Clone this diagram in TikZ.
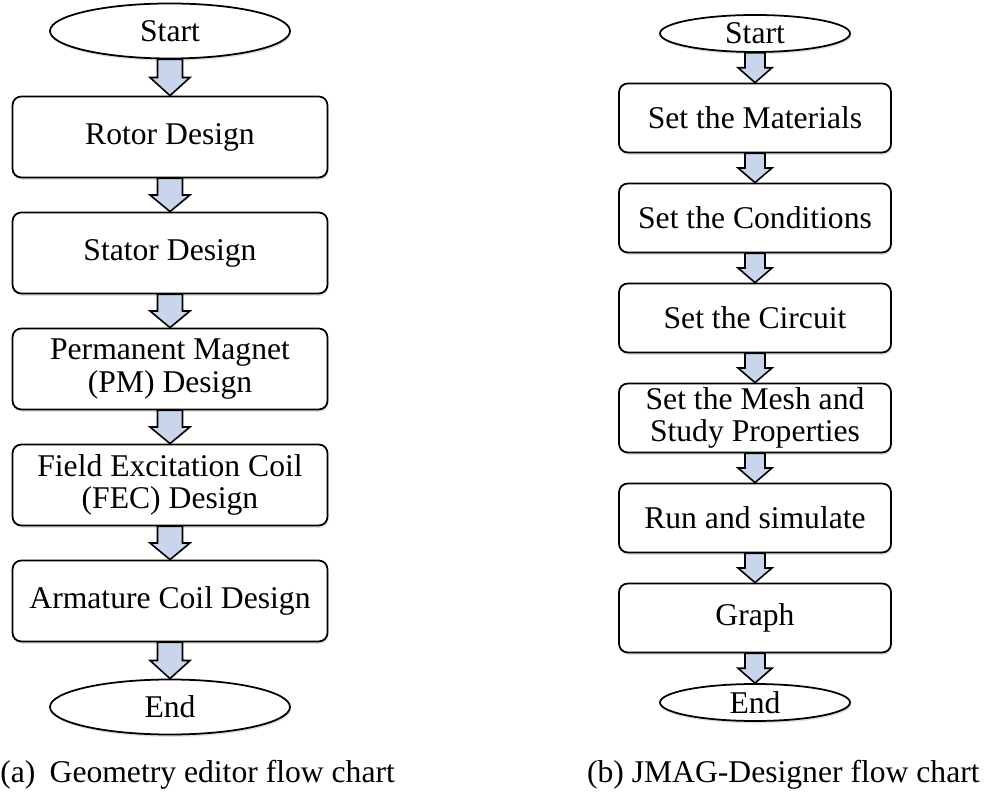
\documentclass[tikz,border=0pt]{standalone}
\usepackage{fontspec}
\setmainfont{Liberation Serif}
\usetikzlibrary{positioning,calc,shapes.geometric,shadows}

\definecolor{arrowblue}{RGB}{200,213,235}

% fat block arrow from one node to the next
\newcommand{\fatarrow}[4]{%
  \draw[fatarrow] let \p1=(#1.south), \p2=(#2.north) in
    ({\x1-#3},\y1) -- ({\x1-#3},{0.5*(\y1+\y2)}) -- ({\x1-#4},{0.5*(\y1+\y2)})
    -- (\x2,\y2) -- ({\x1+#4},{0.5*(\y1+\y2)}) -- ({\x1+#3},{0.5*(\y1+\y2)})
    -- ({\x1+#3},\y1) -- cycle;}

\tikzset{
  txt/.style={font=\fontsize{18}{18.5}\selectfont},
  shade/.style={drop shadow={shadow xshift=0.6pt, shadow yshift=-1.3pt, opacity=0.25}},
  box/.style={txt, shade, draw, line width=1pt, rounded corners=5pt, fill=white,
    align=center, inner sep=0pt},
  term/.style={txt, shade, draw, ellipse, line width=1pt, fill=white, inner sep=0pt},
  fatarrow/.style={draw, line width=0.9pt, fill=arrowblue, line join=miter},
}

\begin{document}
\begin{tikzpicture}[on grid]
\useasboundingbox (0,0) rectangle (19.7,15.88);

% (a) geometry editor
\begin{scope}[box/.append style={minimum width=6.3cm, minimum height=1.62cm},
  term/.append style={minimum width=4.8cm, minimum height=1.1cm}]
\node[term] (a_start) at (3.4,15.26) {Start};
\node[box] (a_rotor) [below=2.12cm of a_start] {Rotor Design};
\node[box] (a_stator) [below=2.32cm of a_rotor] {Stator Design};
\node[box] (a_pm) [below=2.32cm of a_stator] {Permanent Magnet\\(PM) Design};
\node[box] (a_fec) [below=2.32cm of a_pm] {Field Excitation Coil\\(FEC) Design};
\node[box] (a_coil) [below=2.32cm of a_fec] {Armature Coil Design};
\node[term] (a_end) [below=2.12cm of a_coil] {End};
\end{scope}

% (b) JMAG-Designer
\begin{scope}[box/.append style={minimum width=5.44cm, minimum height=1.38cm},
  term/.append style={minimum width=3.8cm, minimum height=0.74cm}]
\node[term] (b_start) at (15.1,15.21) {Start};
\node[box] (b_mat) [below=1.69cm of b_start] {Set the Materials};
\node[box] (b_cond) [below=2cm of b_mat] {Set the Conditions};
\node[box] (b_circ) [below=2cm of b_cond] {Set the Circuit};
\node[box] (b_mesh) [below=2cm of b_circ] {Set the Mesh and\\Study Properties};
\node[box] (b_run) [below=2cm of b_mesh] {Run and simulate};
\node[box] (b_graph) [below=2cm of b_run] {Graph};
\node[term] (b_end) [below=1.69cm of b_graph] {End};
\end{scope}

\foreach \a/\b in {a_start/a_rotor, a_rotor/a_stator, a_stator/a_pm,
    a_pm/a_fec, a_fec/a_coil, a_coil/a_end}
  \fatarrow{\a}{\b}{0.25cm}{0.4cm};
\foreach \a/\b in {b_start/b_mat, b_mat/b_cond, b_cond/b_circ, b_circ/b_mesh,
    b_mesh/b_run, b_run/b_graph, b_graph/b_end}
  \fatarrow{\a}{\b}{0.2cm}{0.34cm};

% captions
\node[txt, anchor=base west, inner sep=0pt] (cap_a) at (0,0.24)
  {(a)\hspace{0.45em}Geometry editor flow chart};
\node[txt, anchor=base east, inner sep=0pt] (cap_b) at (19.6,0.24)
  {(b) JMAG-Designer flow chart};
\end{tikzpicture}
\end{document}
